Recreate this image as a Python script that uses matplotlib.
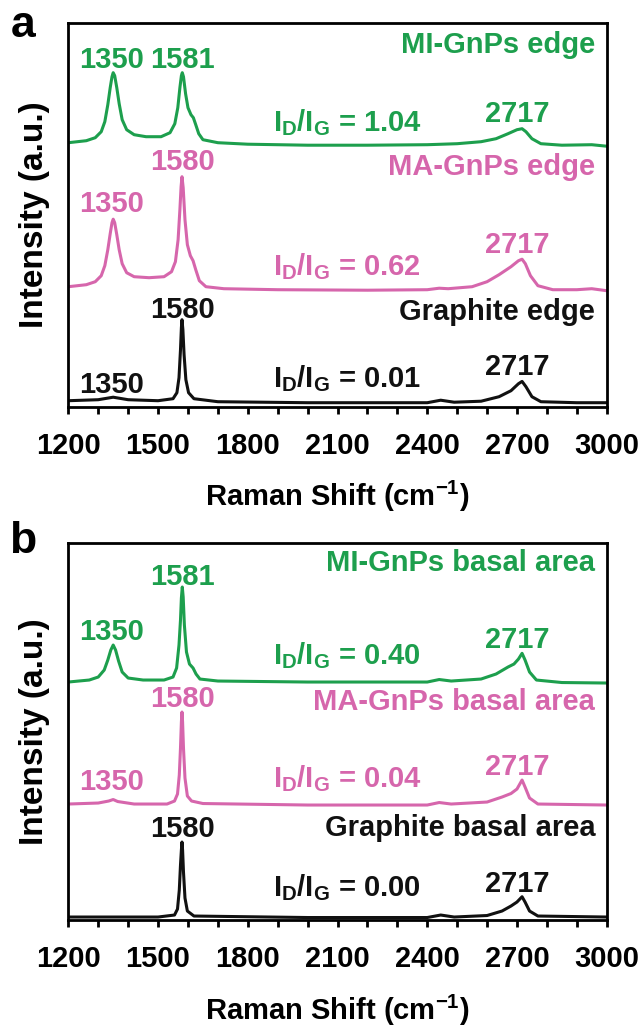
import numpy as np
import matplotlib
matplotlib.use("Agg")
import matplotlib.pyplot as plt
from matplotlib.ticker import MultipleLocator, NullLocator

plt.rcParams['font.family'] = ['Liberation Sans', 'DejaVu Sans']
plt.rcParams['font.weight'] = 'bold'
plt.rcParams['mathtext.fontset'] = 'custom'
plt.rcParams['mathtext.rm'] = 'Liberation Sans:bold'
plt.rcParams['mathtext.it'] = 'Liberation Sans:bold'
plt.rcParams['mathtext.bf'] = 'Liberation Sans:bold'

GREEN = '#1d9f4d'
PINK = '#d666ac'
BLACK = '#111111'

# ---- panel a: edge spectra (stacked intensities, a.u.) ----
mi_edge_x = [1200, 1260, 1290, 1310, 1322, 1332, 1340, 1346, 1350, 1355, 1362, 1370, 1380, 1395,
             1420, 1460, 1510, 1540, 1556, 1566, 1573, 1578, 1581, 1585, 1592, 1600, 1610, 1618,
             1626, 1636, 1650, 1700, 1800, 2000, 2200, 2400, 2500, 2580, 2630, 2670, 2700, 2717,
             2730, 2750, 2780, 2850, 2950, 3000]
mi_edge_y = [264, 266, 269, 275, 285, 302, 319, 330, 334, 331, 319, 303, 287, 277,
             272, 270, 270, 274, 283, 299, 319, 331, 334, 330, 313, 299, 292, 289,
             282, 273, 267, 264, 262.5, 261.5, 261.5, 262, 263, 265, 268, 273, 277, 278,
             275, 268, 263, 261.5, 262, 260.5]

ma_edge_x = [1200, 1260, 1290, 1310, 1322, 1332, 1340, 1346, 1350, 1355, 1362, 1370, 1380, 1395,
             1420, 1470, 1520, 1545, 1558, 1567, 1573, 1577, 1580, 1584, 1590, 1598, 1608, 1617,
             1626, 1638, 1660, 1720, 1900, 2200, 2400, 2440, 2470, 2550, 2600, 2640, 2680, 2705,
             2717, 2728, 2745, 2770, 2820, 2900, 2950, 3000]
ma_edge_y = [120, 122, 125, 131, 141, 157, 173, 184, 187.5, 184, 172, 157, 143, 134,
             130, 129, 130, 135, 145, 167, 197, 220, 230, 219, 187, 162, 151, 146,
             137, 126, 120, 118, 117, 116.5, 117, 118.5, 118, 120, 125, 132, 140, 146,
             147.5, 143, 131, 121, 117, 117, 118, 116]

gr_edge_x = [1200, 1300, 1350, 1400, 1500, 1550, 1563, 1570, 1575, 1578, 1580, 1583, 1587, 1593,
             1602, 1620, 1700, 2000, 2400, 2445, 2490, 2580, 2640, 2680, 2705, 2717, 2730, 2750,
             2780, 2900, 3000]
gr_edge_y = [6, 7, 9.5, 7, 6, 8, 14, 29, 57, 79, 87, 77, 52, 27,
             14, 8, 5, 4, 4, 6.5, 4.5, 5.5, 10, 16, 23, 25.3, 20, 10,
             5, 4, 4]

# ---- panel b: basal area spectra ----
mi_basal_x = [1200, 1270, 1300, 1320, 1332, 1342, 1350, 1358, 1368, 1380, 1400, 1450, 1520, 1550,
              1562, 1570, 1575, 1578, 1581, 1584, 1588, 1595, 1605, 1617, 1627, 1640, 1700, 2000,
              2400, 2440, 2480, 2580, 2630, 2670, 2690, 2705, 2717, 2727, 2742, 2765, 2850, 3000]
mi_basal_y = [238, 240, 243, 250, 260, 270, 275, 270, 259, 248, 242, 240, 240, 243,
              252, 275, 300, 322, 333, 323, 295, 268, 256, 252, 246, 241, 239, 238,
              238, 240.5, 239, 241, 246, 253, 256, 261, 266.7, 260, 248, 240, 237.5, 237]

ma_basal_x = [1200, 1300, 1335, 1350, 1365, 1420, 1530, 1555, 1565, 1571, 1575, 1578, 1580, 1582,
              1585, 1590, 1598, 1612, 1650, 2000, 2400, 2440, 2480, 2600, 2650, 2680, 2700, 2717,
              2727, 2742, 2770, 3000]
ma_basal_y = [116, 117, 119, 120.5, 118.5, 116, 116, 119, 126, 145, 172, 198, 208, 198,
              172, 142, 124, 119, 116.5, 115, 115, 117.5, 116, 118, 123, 126.5, 131, 140,
              133, 122, 116, 115]

gr_basal_x = [1200, 1500, 1555, 1565, 1571, 1575, 1578, 1580, 1582, 1585, 1590, 1598, 1620, 2000,
              2400, 2445, 2490, 2600, 2650, 2680, 2700, 2717, 2727, 2742, 2770, 3000]
gr_basal_y = [3, 3, 5, 11, 30, 55, 70, 78, 70, 48, 22, 9, 4, 2.5,
              2.5, 5, 3, 4.5, 9, 14, 18, 23.3, 18, 9, 4, 3]

panels = [
    dict(letter='a', letter_y=1 - 37 / 1032, ylim=384, rect=[0.1066, 0.6059, 0.8399, 0.3721],
         curves=[(mi_edge_x, mi_edge_y, GREEN), (ma_edge_x, ma_edge_y, PINK), (gr_edge_x, gr_edge_y, BLACK)],
         names=[('MI-GnPs edge', 354, GREEN), ('MA-GnPs edge', 232, PINK), ('Graphite edge', 87, BLACK)],
         peaks=[('1350', 1346, 339, GREEN), ('1581', 1583, 339, GREEN), ('2717', 2700, 285, GREEN),
                ('1350', 1346, 195, PINK), ('1580', 1583, 237, PINK), ('2717', 2700, 154, PINK),
                ('1350', 1346, 14, BLACK), ('1580', 1583, 89, BLACK), ('2717', 2700, 32, BLACK)],
         ratios=[('1.04', 276, GREEN), ('0.62', 132, PINK), ('0.01', 20, BLACK)]),
    dict(letter='b', letter_y=1 - 553 / 1032, ylim=377.3, rect=[0.1066, 0.1085, 0.8399, 0.3656],
         curves=[(mi_basal_x, mi_basal_y, GREEN), (ma_basal_x, ma_basal_y, PINK), (gr_basal_x, gr_basal_y, BLACK)],
         names=[('MI-GnPs basal area', 349, GREEN), ('MA-GnPs basal area', 210, PINK), ('Graphite basal area', 84, BLACK)],
         peaks=[('1350', 1346, 280, GREEN), ('1581', 1583, 335, GREEN), ('2717', 2700, 272, GREEN),
                ('1350', 1346, 130, PINK), ('1580', 1583, 213, PINK), ('2717', 2700, 145, PINK),
                ('1580', 1583, 83, BLACK), ('2717', 2700, 28, BLACK)],
         ratios=[('0.40', 256, GREEN), ('0.04', 133, PINK), ('0.00', 24, BLACK)]),
]

fig = plt.figure(figsize=(6.41, 10.32), dpi=100)

for p in panels:
    ax = fig.add_axes(p['rect'])
    for x, y, c in p['curves']:
        ax.plot(x, y, color=c, lw=2.2, solid_joinstyle='round')
    ax.set_xlim(1200, 3000)
    ax.set_ylim(0, p['ylim'])
    ax.xaxis.set_major_locator(MultipleLocator(300))
    ax.xaxis.set_minor_locator(MultipleLocator(100))
    ax.yaxis.set_major_locator(NullLocator())
    ax.tick_params(axis='x', which='both', direction='out', length=5, width=2,
                   labelsize=21, pad=13)
    for lab in ax.get_xticklabels():
        lab.set_fontweight('bold')
    for s in ax.spines.values():
        s.set_linewidth(2.0)
    ax.set_xlabel('Raman Shift (cm$^{-1}$)', fontsize=21, fontweight='bold', labelpad=14)
    ax.set_ylabel('Intensity (a.u.)', fontsize=24, fontweight='bold', labelpad=13)

    for txt, yb, c in p['names']:
        ax.text(2962, yb, txt, color=c, fontsize=21, fontweight='bold', ha='right', va='baseline')
    for txt, xp, yb, c in p['peaks']:
        ax.text(xp, yb, txt, color=c, fontsize=21, fontweight='bold', ha='center', va='baseline')
    for val, yb, c in p['ratios']:
        ax.text(1884, yb, r'$\mathrm{I_D/I_G}$ = ' + val, color=c, fontsize=21,
                fontweight='bold', ha='left', va='baseline')

    fig.text(23 / 641, p['letter_y'], p['letter'], fontsize=32, fontweight='bold',
             ha='center', va='baseline')

fig.savefig('out.png', dpi=100)
